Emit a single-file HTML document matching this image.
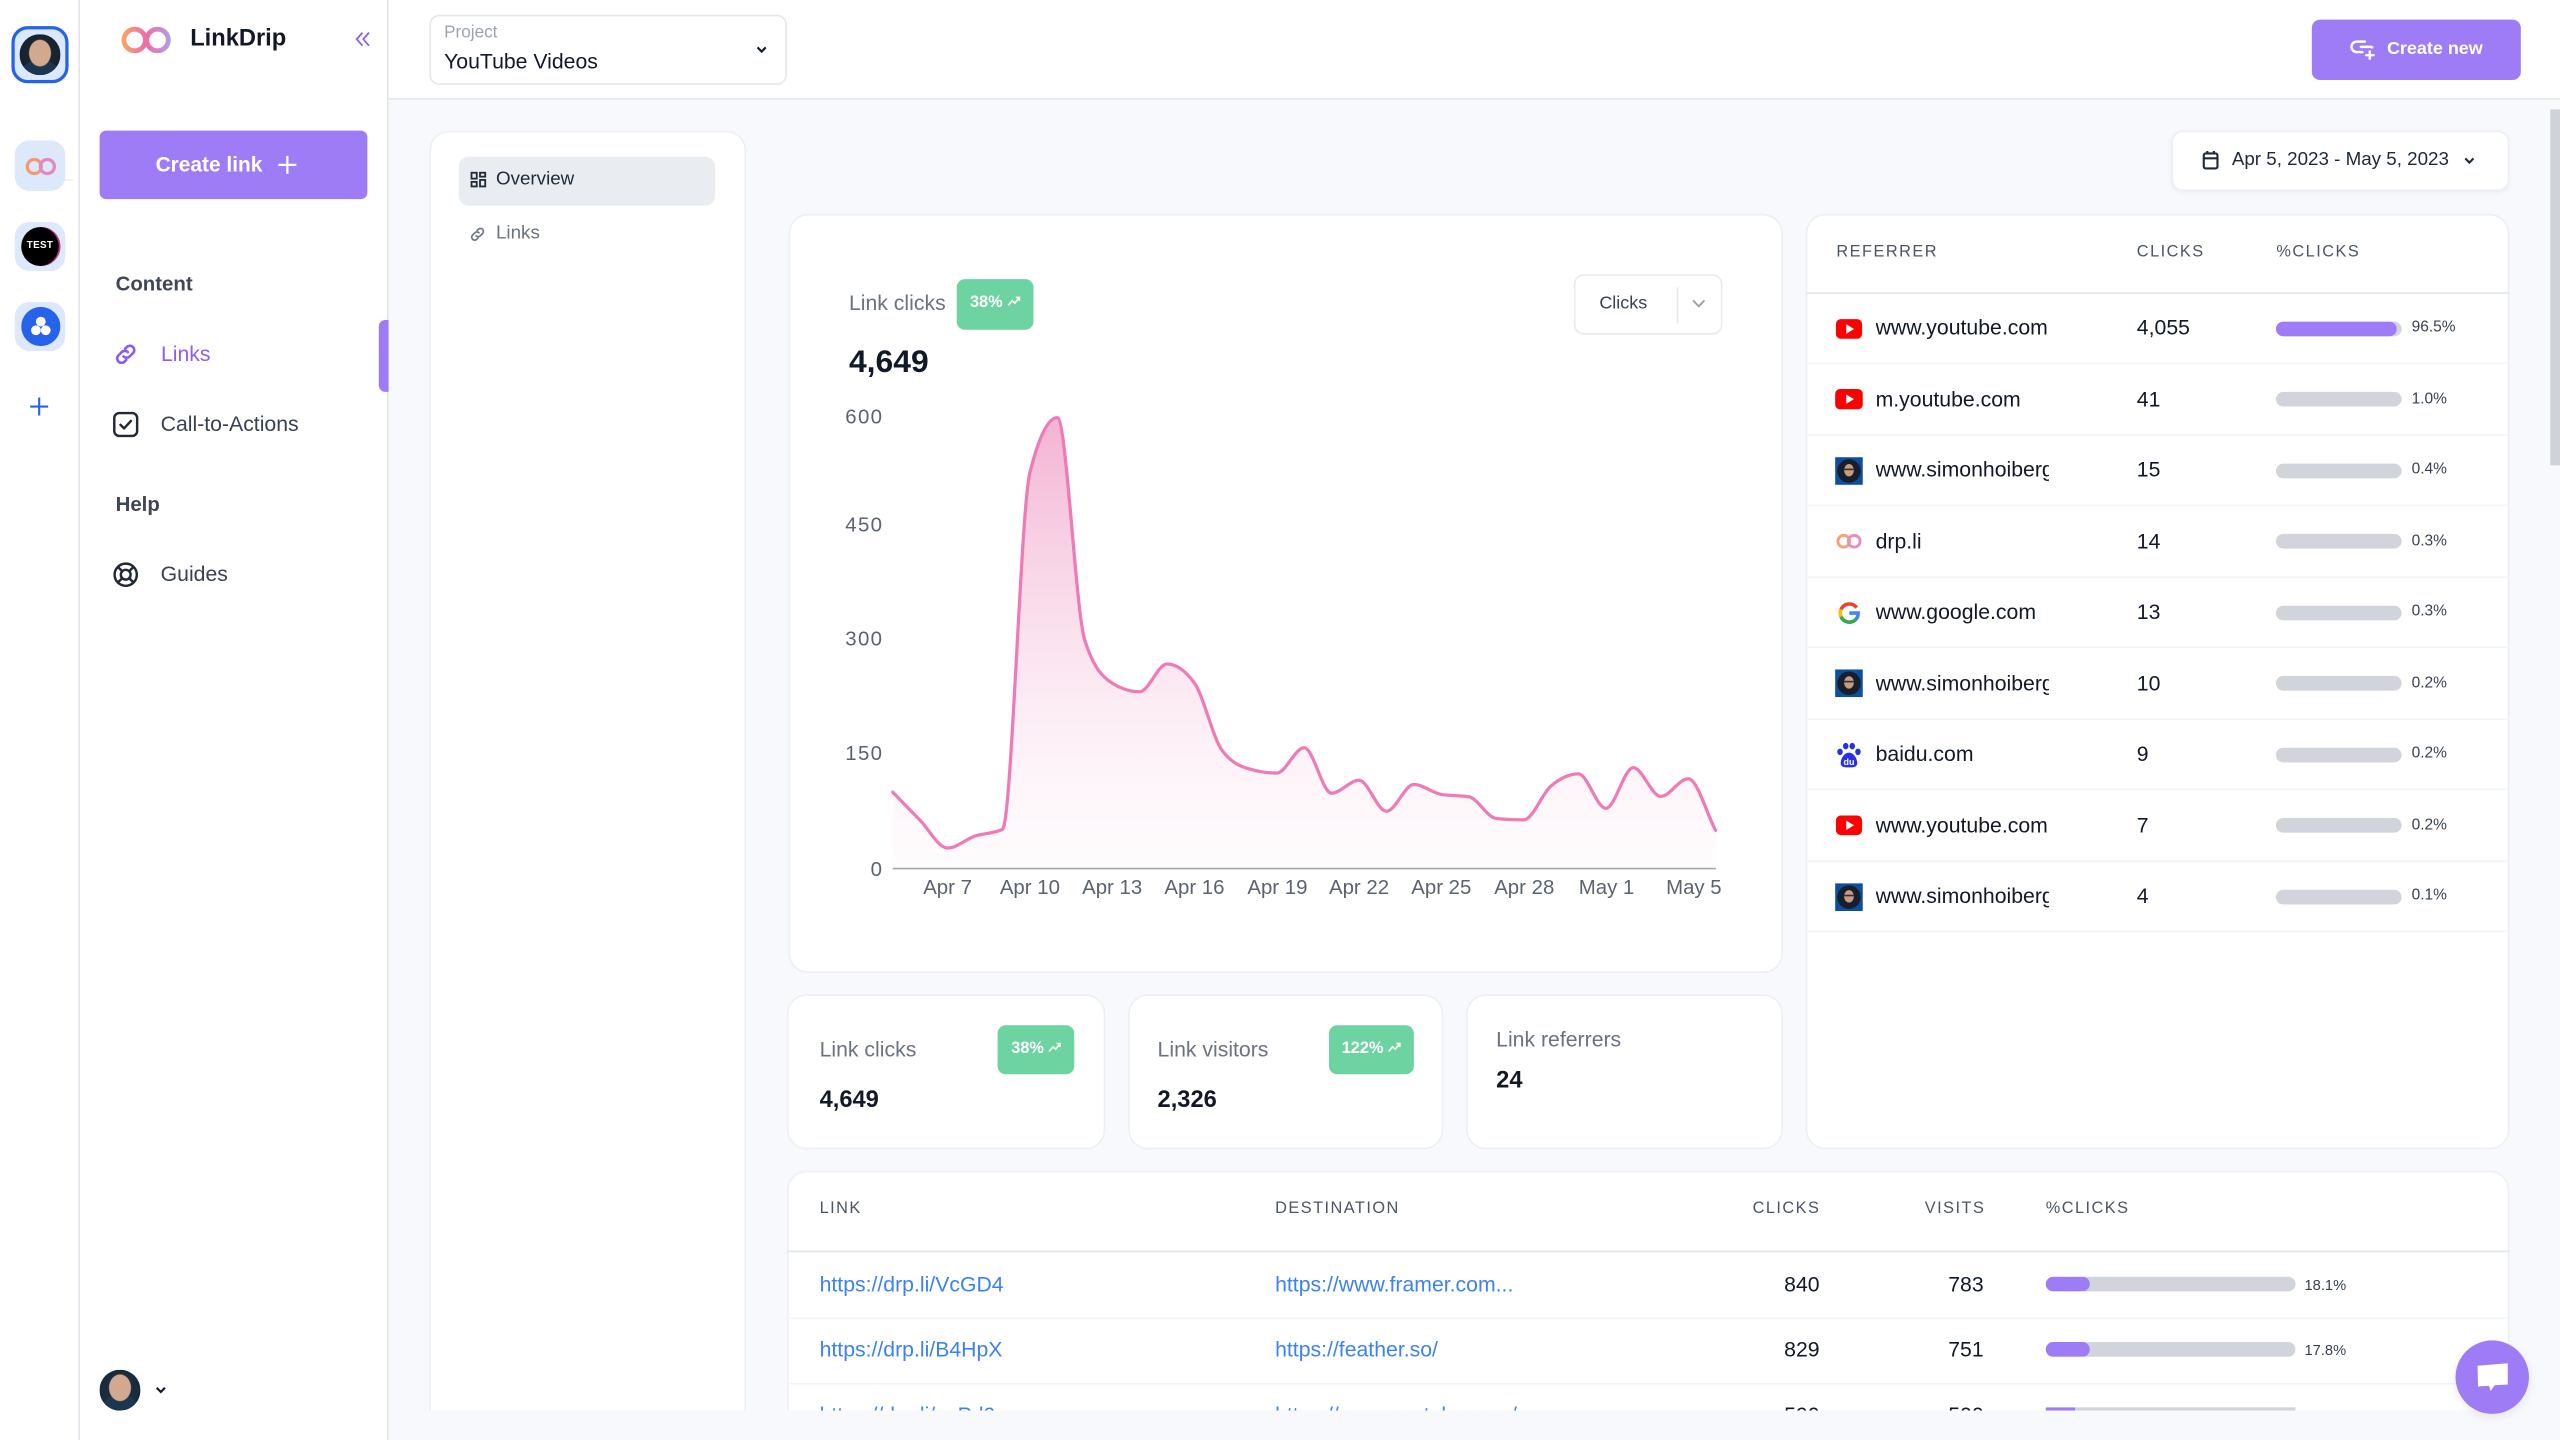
<!DOCTYPE html>
<html><head><meta charset="utf-8"><title>LinkDrip</title>
<style>
*{box-sizing:border-box;margin:0;padding:0}
html,body{width:2560px;height:1440px;overflow:hidden;background:#f7f9fc}
body{font-family:"Liberation Sans",Arial,sans-serif;color:#111827}
#w{position:absolute;left:0;top:0;width:1568px;height:882px;transform:scale(1.6326531);transform-origin:0 0;overflow:hidden;background:#f7f9fc}
.a{position:absolute}
.t{position:absolute;white-space:nowrap;height:20px;line-height:20px}
.card{position:absolute;background:#fff;border:1px solid #eceff3;border-radius:12px}
.hd{font-size:10px;letter-spacing:0.9px;color:#4b5563}
.badge{position:absolute;background:#6dd3a0;border-radius:5px;color:#fff;font-weight:bold;font-size:10px;line-height:30px;text-align:center;white-space:nowrap}
.row{position:absolute;left:1105.5px;width:431px;height:43.5px;border-bottom:1px solid #f2f4f7}
.nm{left:43.3px;top:11.75px;width:106.5px;overflow:hidden;font-size:13px;color:#111827}
.ct{left:203.3px;top:11.75px;font-size:13px;color:#111827}
.bar{position:absolute;left:288.8px;top:17.4px;width:76.3px;height:8.8px;border-radius:5px;background:#d1d5db;overflow:hidden}
.pc{left:371.6px;top:11.75px;font-size:9.5px;color:#374151}
.ic{position:absolute;left:18.5px;top:13px;width:17px;height:17px}
.lk{font-size:13px;color:#3b82f6}
.num{font-size:13px;color:#111827;text-align:right;width:100px}
.cl{position:absolute;top:856.5px;height:7.5px;overflow:hidden;white-space:nowrap;line-height:20px}
</style></head><body><div id="w">

<!-- MAIN CLIPPED CONTENT -->
<div class="a" style="left:0;top:0;width:1568px;height:864px;overflow:hidden">

<!-- sub nav card -->
<div class="card" style="left:262.5px;top:80px;width:194.5px;height:784px;border-radius:12px 12px 0 0;border-bottom:none"></div>
<div class="a" style="left:281px;top:95.6px;width:157px;height:30px;background:#e9ecf1;border-radius:6px"></div>
<svg class="a" style="left:288px;top:105px" width="10" height="10" viewBox="0 0 10 10" fill="none" stroke="#1f2937" stroke-width="1.1"><rect x="0.8" y="0.8" width="3.2" height="3.6"/><rect x="6" y="0.8" width="3.2" height="2.4"/><rect x="0.8" y="6.4" width="3.2" height="2.8"/><rect x="6" y="5.2" width="3.2" height="4"/></svg>
<div class="t" style="left:303.8px;top:100px;font-size:11.5px;color:#1f2937">Overview</div>
<svg class="a" style="left:287px;top:137.5px" width="11" height="11" viewBox="0 0 24 24" fill="none" stroke="#6b7280" stroke-width="2.2" stroke-linecap="round"><path d="M10 14a4 4 0 0 0 5.66 0l3-3a4 4 0 0 0-5.66-5.66l-1.5 1.5"/><path d="M14 10a4 4 0 0 0-5.66 0l-3 3a4 4 0 0 0 5.66 5.66l1.5-1.5"/></svg>
<div class="t" style="left:303.8px;top:133px;font-size:11.5px;color:#6b7280">Links</div>

<!-- date picker -->
<div class="a" style="left:1329.7px;top:80px;width:207px;height:37px;background:#fff;border:1px solid #eceff3;border-radius:7px;box-shadow:0 1px 3px rgba(16,24,40,.05)"></div>
<svg class="a" style="left:1349px;top:92px" width="10" height="12" viewBox="0 0 10 12" fill="none" stroke="#1f2937" stroke-width="1.3"><rect x="0.8" y="2" width="8.4" height="9.2" rx="1.2"/><line x1="0.8" y1="5" x2="9.2" y2="5"/><line x1="3" y1="0.5" x2="3" y2="2.5"/><line x1="7" y1="0.5" x2="7" y2="2.5"/></svg>
<div class="t" style="left:1367px;top:88px;font-size:11.5px;color:#1f2937">Apr 5, 2023 - May 5, 2023</div>
<svg class="a" style="left:1509px;top:95.5px" width="7" height="5" viewBox="0 0 7 5" fill="none" stroke="#1f2937" stroke-width="1.3"><polyline points="1,1 3.5,3.6 6,1"/></svg>

<!-- chart card -->
<div class="card" style="left:482.5px;top:130.5px;width:609px;height:465px"></div>
<div class="t" style="left:520px;top:176px;font-size:13px;color:#6b7280">Link clicks</div>
<div class="badge" style="left:586px;top:171px;width:47px;height:30.5px">38% <svg width="8" height="7" viewBox="0 0 8 7" fill="none" stroke="#fff" stroke-width="1"><polyline points="0.5,6 3,3.2 4.6,4.6 7.4,1.2"/><polyline points="5.2,1.2 7.4,1.2 7.4,3.3"/></svg></div>
<div class="t" style="left:520px;top:212px;font-size:19.5px;font-weight:bold;color:#111827">4,649</div>
<div class="a" style="left:964px;top:168px;width:91px;height:37px;border:1px solid #e8ebef;border-radius:6px;background:#fff"></div>
<div class="t" style="left:979.6px;top:175.6px;font-size:11px;color:#374151">Clicks</div>
<div class="a" style="left:1026.5px;top:176px;width:1px;height:22px;background:#e5e7eb"></div>
<svg class="a" style="left:1036px;top:183px" width="9" height="6" viewBox="0 0 9 6" fill="none" stroke="#9ca3af" stroke-width="1.2"><polyline points="1,1 4.5,4.6 8,1"/></svg>

<svg class="a" style="left:0;top:0" width="1568" height="864" viewBox="0 0 1568 864">
<defs><linearGradient id="g" x1="0" y1="255" x2="0" y2="532" gradientUnits="userSpaceOnUse"><stop offset="0" stop-color="#f09cc6" stop-opacity="0.78"/><stop offset="1" stop-color="#fbe5f0" stop-opacity="0.12"/></linearGradient></defs>
<path fill="url(#g)" d="M546.8,485.2 C552.4,490.97 558,496.8 563.6,502.5 C569.2,508.2 574.8,519.4 580.4,519.4 C586,519.4 591.6,514 597.2,512.1 C602.8,510.2 608.4,510.73 614,508 C619.6,505.27 625.2,311.97 630.8,289.5 C636.4,267.03 642,255.8 647.6,255.8 C653.2,255.8 658.8,374.4 664.4,392 C670,409.6 675.6,414.87 681.2,418.4 C686.8,421.93 692.4,423.7 698,423.7 C703.6,423.7 709.2,406.7 714.8,406.7 C720.4,406.7 726,410.6 731.6,418.4 C737.2,426.2 742.8,451.67 748.4,459.4 C754,467.13 759.6,469.33 765.2,471 C770.8,472.67 776.4,473.5 782,473.5 C787.6,473.5 793.2,458 798.8,458 C804.4,458 810,485.8 815.6,485.8 C821.2,485.8 826.8,477.9 832.4,477.9 C838,477.9 843.6,496.9 849.2,496.9 C854.8,496.9 860.4,480.5 866,480.5 C871.6,480.5 877.2,485.67 882.8,486.6 C888.4,487.53 894,487.07 899.6,488 C905.2,488.93 910.8,500.7 916.4,501.3 C922,501.9 927.6,502.2 933.2,502.2 C938.8,502.2 944.4,486.1 950,481.4 C955.6,476.7 961.2,474 966.8,474 C972.4,474 978,495.1 983.6,495.1 C989.2,495.1 994.8,470.2 1000.4,470.2 C1006,470.2 1011.6,487.8 1017.2,487.8 C1022.8,487.8 1028.4,477 1034,477 C1039.6,477 1045.2,498.07 1050.8,508.6 L1050.8,532 L546.8,532 Z"/>
<line x1="546.8" y1="532" x2="1051" y2="532" stroke="#a3a7ae" stroke-width="1"/>
<path fill="none" stroke="#ee7bb5" stroke-width="2" stroke-linejoin="round" stroke-linecap="round" d="M546.8,485.2 C552.4,490.97 558,496.8 563.6,502.5 C569.2,508.2 574.8,519.4 580.4,519.4 C586,519.4 591.6,514 597.2,512.1 C602.8,510.2 608.4,510.73 614,508 C619.6,505.27 625.2,311.97 630.8,289.5 C636.4,267.03 642,255.8 647.6,255.8 C653.2,255.8 658.8,374.4 664.4,392 C670,409.6 675.6,414.87 681.2,418.4 C686.8,421.93 692.4,423.7 698,423.7 C703.6,423.7 709.2,406.7 714.8,406.7 C720.4,406.7 726,410.6 731.6,418.4 C737.2,426.2 742.8,451.67 748.4,459.4 C754,467.13 759.6,469.33 765.2,471 C770.8,472.67 776.4,473.5 782,473.5 C787.6,473.5 793.2,458 798.8,458 C804.4,458 810,485.8 815.6,485.8 C821.2,485.8 826.8,477.9 832.4,477.9 C838,477.9 843.6,496.9 849.2,496.9 C854.8,496.9 860.4,480.5 866,480.5 C871.6,480.5 877.2,485.67 882.8,486.6 C888.4,487.53 894,487.07 899.6,488 C905.2,488.93 910.8,500.7 916.4,501.3 C922,501.9 927.6,502.2 933.2,502.2 C938.8,502.2 944.4,486.1 950,481.4 C955.6,476.7 961.2,474 966.8,474 C972.4,474 978,495.1 983.6,495.1 C989.2,495.1 994.8,470.2 1000.4,470.2 C1006,470.2 1011.6,487.8 1017.2,487.8 C1022.8,487.8 1028.4,477 1034,477 C1039.6,477 1045.2,498.07 1050.8,508.6"/>
<g font-family="Liberation Sans, Arial, sans-serif" font-size="12.5" fill="#5b6270">
<g text-anchor="end" letter-spacing="0.8">
<text x="541" y="259.5">600</text>
<text x="541" y="325.5">450</text>
<text x="541" y="395.5">300</text>
<text x="541" y="465.5">150</text>
<text x="541" y="536.5">0</text>
</g>
<g text-anchor="middle">
<text x="580.4" y="547.5">Apr 7</text>
<text x="630.8" y="547.5">Apr 10</text>
<text x="681.2" y="547.5">Apr 13</text>
<text x="731.6" y="547.5">Apr 16</text>
<text x="782.4" y="547.5">Apr 19</text>
<text x="832.4" y="547.5">Apr 22</text>
<text x="882.8" y="547.5">Apr 25</text>
<text x="933.6" y="547.5">Apr 28</text>
<text x="984" y="547.5">May 1</text>
<text x="1037.5" y="547.5">May 5</text>
</g></g>
</svg>

<!-- stat cards -->
<div class="card" style="left:482.4px;top:609px;width:194.4px;height:94.7px"></div>
<div class="t" style="left:502px;top:632.7px;font-size:13px;color:#6b7280">Link clicks</div>
<div class="badge" style="left:611.3px;top:627.8px;width:47px;height:30.6px">38% <svg width="8" height="7" viewBox="0 0 8 7" fill="none" stroke="#fff" stroke-width="1"><polyline points="0.5,6 3,3.2 4.6,4.6 7.4,1.2"/><polyline points="5.2,1.2 7.4,1.2 7.4,3.3"/></svg></div>
<div class="t" style="left:502px;top:663.7px;font-size:14.5px;font-weight:bold;color:#111827">4,649</div>

<div class="card" style="left:690.6px;top:609px;width:193.4px;height:94.7px"></div>
<div class="t" style="left:709px;top:632.7px;font-size:13px;color:#6b7280">Link visitors</div>
<div class="badge" style="left:814.4px;top:627.8px;width:51.2px;height:30.6px">122% <svg width="8" height="7" viewBox="0 0 8 7" fill="none" stroke="#fff" stroke-width="1"><polyline points="0.5,6 3,3.2 4.6,4.6 7.4,1.2"/><polyline points="5.2,1.2 7.4,1.2 7.4,3.3"/></svg></div>
<div class="t" style="left:709px;top:663.7px;font-size:14.5px;font-weight:bold;color:#111827">2,326</div>

<div class="card" style="left:898px;top:609px;width:193.5px;height:94.7px"></div>
<div class="t" style="left:916.4px;top:626.6px;font-size:13px;color:#6b7280">Link referrers</div>
<div class="t" style="left:916.4px;top:651.5px;font-size:14.5px;font-weight:bold;color:#111827">24</div>

<!-- referrer card -->
<div class="card" style="left:1105.5px;top:130.5px;width:431.2px;height:573.2px"></div>
<div class="t hd" style="left:1124.8px;top:144.5px">REFERRER</div>
<div class="t hd" style="left:1308.8px;top:144.5px">CLICKS</div>
<div class="t hd" style="left:1394.3px;top:144.5px">%CLICKS</div>
<div class="a" style="left:1105.5px;top:179px;width:431.2px;height:1px;background:#e3e6eb"></div>

<div class="row" style="top:179.5px">
<svg class="ic" viewBox="0 0 17 17"><rect x="0.5" y="2.5" width="16" height="12" rx="3" fill="#ff0000"/><polygon points="6.8,5.6 6.8,11.4 11.6,8.5" fill="#fff"/></svg>
<div class="t nm">www.youtube.com</div><div class="t ct">4,055</div>
<div class="bar"><div style="width:73.7px;height:100%;background:#9d7cf6;border-radius:5px"></div></div><div class="t pc">96.5%</div></div>

<div class="row" style="top:223px">
<svg class="ic" viewBox="0 0 17 17"><rect x="0" y="2.3" width="17" height="12.4" rx="3" fill="#ff0000"/><polygon points="6.8,5.6 6.8,11.4 11.6,8.5" fill="#fff"/></svg>
<div class="t nm">m.youtube.com</div><div class="t ct">41</div>
<div class="bar"></div><div class="t pc">1.0%</div></div>

<div class="row" style="top:266.5px">
<svg class="ic" viewBox="0 0 17 17"><rect width="17" height="17" fill="#0d4f9e"/><circle cx="8.5" cy="8.5" r="7.2" fill="#16202c"/><ellipse cx="8.5" cy="8" rx="3" ry="3.8" fill="#c89a80"/><rect x="5.5" y="7" width="6" height="1" fill="#333"/></svg>
<div class="t nm">www.simonhoiberg.com</div><div class="t ct">15</div>
<div class="bar"></div><div class="t pc">0.4%</div></div>

<div class="row" style="top:310px">
<svg class="ic" viewBox="0 0 17 17" fill="none" stroke-width="1.8"><circle cx="5.3" cy="8.5" r="3.6" stroke="#f5a17a"/><circle cx="11.7" cy="8.5" r="3.6" stroke="#e98fc0"/></svg>
<div class="t nm">drp.li</div><div class="t ct">14</div>
<div class="bar"></div><div class="t pc">0.3%</div></div>

<div class="row" style="top:353.5px">
<svg class="ic" viewBox="0 0 17 17" fill="none" stroke-width="2.2"><path d="M13.2 5.2 A5.6 5.6 0 0 0 3.6 6.3" stroke="#ea4335"/><path d="M3.6 6.3 A5.6 5.6 0 0 0 3.6 10.7" stroke="#fbbc05"/><path d="M3.6 10.7 A5.6 5.6 0 0 0 12.8 12.3" stroke="#34a853"/><path d="M12.8 12.3 A5.6 5.6 0 0 0 14.1 8.5 L8.7 8.5" stroke="#4285f4"/></svg>
<div class="t nm">www.google.com</div><div class="t ct">13</div>
<div class="bar"></div><div class="t pc">0.3%</div></div>

<div class="row" style="top:397px">
<svg class="ic" viewBox="0 0 17 17"><rect width="17" height="17" fill="#0d4f9e"/><circle cx="8.5" cy="8.5" r="7.2" fill="#16202c"/><ellipse cx="8.5" cy="8" rx="3" ry="3.8" fill="#c89a80"/><rect x="5.5" y="7" width="6" height="1" fill="#333"/></svg>
<div class="t nm">www.simonhoiberg.com</div><div class="t ct">10</div>
<div class="bar"></div><div class="t pc">0.2%</div></div>

<div class="row" style="top:440.5px">
<svg class="ic" viewBox="0 0 17 17" fill="#2932e1"><ellipse cx="3" cy="6.5" rx="1.7" ry="2"/><ellipse cx="6.5" cy="3" rx="1.7" ry="2"/><ellipse cx="10.5" cy="3" rx="1.7" ry="2"/><ellipse cx="14" cy="6.5" rx="1.7" ry="2"/><path d="M8.5 7 C5 7 3 12 3.5 14 C4 16 6 16 8.5 16 C11 16 13 16 13.5 14 C14 12 12 7 8.5 7Z"/><text x="8.5" y="14.6" font-size="5.5" fill="#fff" text-anchor="middle" font-family="Liberation Sans, sans-serif" font-weight="bold">du</text></svg>
<div class="t nm">baidu.com</div><div class="t ct">9</div>
<div class="bar"></div><div class="t pc">0.2%</div></div>

<div class="row" style="top:484px">
<svg class="ic" viewBox="0 0 17 17"><rect x="0.5" y="2.5" width="16" height="12" rx="3" fill="#ff0000"/><polygon points="6.8,5.6 6.8,11.4 11.6,8.5" fill="#fff"/></svg>
<div class="t nm">www.youtube.com</div><div class="t ct">7</div>
<div class="bar"></div><div class="t pc">0.2%</div></div>

<div class="row" style="top:527.5px">
<svg class="ic" viewBox="0 0 17 17"><rect width="17" height="17" fill="#0d4f9e"/><circle cx="8.5" cy="8.5" r="7.2" fill="#16202c"/><ellipse cx="8.5" cy="8" rx="3" ry="3.8" fill="#c89a80"/><rect x="5.5" y="7" width="6" height="1" fill="#333"/></svg>
<div class="t nm">www.simonhoiberg.com</div><div class="t ct">4</div>
<div class="bar"></div><div class="t pc">0.1%</div></div>

<!-- links table -->
<div class="card" style="left:482.4px;top:717px;width:1054.3px;height:147px;border-radius:12px 12px 0 0;border-bottom:none"></div>
<div class="t hd" style="left:502px;top:731px">LINK</div>
<div class="t hd" style="left:781px;top:731px">DESTINATION</div>
<div class="t hd" style="left:1015px;top:731px;width:100px;text-align:right">CLICKS</div>
<div class="t hd" style="left:1116px;top:731px;width:100px;text-align:right">VISITS</div>
<div class="t hd" style="left:1253px;top:731px">%CLICKS</div>
<div class="a" style="left:482.4px;top:766px;width:1054.3px;height:1px;background:#e3e6eb"></div>

<div class="t lk" style="left:502px;top:776.5px">https://drp.li/VcGD4</div>
<div class="t lk" style="left:781px;top:776.5px">https://www.framer.com...</div>
<div class="t num" style="left:1014.5px;top:776.5px">840</div>
<div class="t num" style="left:1115px;top:776.5px">783</div>
<div class="a" style="left:1253px;top:782.1px;width:152.7px;height:8.8px;border-radius:5px;background:#d1d5db;overflow:hidden"><div style="width:26.8px;height:100%;background:#9d7cf6;border-radius:5px"></div></div>
<div class="t" style="left:1411.5px;top:776.5px;font-size:9px;color:#374151">18.1%</div>
<div class="a" style="left:482.4px;top:806.5px;width:1054.3px;height:1px;background:#f2f4f7"></div>

<div class="t lk" style="left:502px;top:816.5px">https://drp.li/B4HpX</div>
<div class="t lk" style="left:781px;top:816.5px">https://feather.so/</div>
<div class="t num" style="left:1014.5px;top:816.5px">829</div>
<div class="t num" style="left:1115px;top:816.5px">751</div>
<div class="a" style="left:1253px;top:822.1px;width:152.7px;height:8.8px;border-radius:5px;background:#d1d5db;overflow:hidden"><div style="width:26.5px;height:100%;background:#9d7cf6;border-radius:5px"></div></div>
<div class="t" style="left:1411.5px;top:816.5px;font-size:9px;color:#374151">17.8%</div>
<div class="a" style="left:482.4px;top:846.5px;width:1054.3px;height:1px;background:#f2f4f7"></div>

<div class="cl lk" style="left:502px;width:150px">https://drp.li/nxPd9</div>
<div class="cl lk" style="left:781px;width:200px">https://www.youtube.com/...</div>
<div class="cl num" style="left:1014.5px">590</div>
<div class="cl num" style="left:1115px">500</div>
<div class="a" style="left:1253px;top:862.1px;width:152.7px;height:1.9px;background:#d1d5db;overflow:hidden"><div style="width:18px;height:100%;background:#9d7cf6"></div></div>
</div>

<!-- HEADER -->
<div class="a" style="left:237px;top:0;width:1331px;height:61px;background:#fff;border-bottom:1px solid #e5e7eb"></div>
<div class="a" style="left:262.5px;top:9.4px;width:219.5px;height:42.4px;border:1px solid #e5e7eb;border-radius:6px;background:#fff"></div>
<div class="t" style="left:272px;top:10.3px;font-size:10.5px;color:#9ca3af">Project</div>
<div class="t" style="left:272px;top:28.1px;font-size:13px;color:#111827">YouTube Videos</div>
<svg class="a" style="left:463px;top:28px" width="7" height="5" viewBox="0 0 7 5" fill="none" stroke="#111827" stroke-width="1.3"><polyline points="1,1 3.5,3.6 6,1"/></svg>
<div class="a" style="left:1416px;top:12.2px;width:127.5px;height:36.8px;background:#9d7cf6;border-radius:5px"></div>
<svg class="a" style="left:1438.5px;top:23.5px" width="17" height="13" viewBox="0 0 17 13" fill="none" stroke="#fff" stroke-width="1.5" stroke-linecap="round"><path d="M9.5 1.5 H4.5 A3.2 3.2 0 0 0 4.5 7.9 H8"/><path d="M7 4.7 H12.5 A3.2 3.2 0 0 1 14 5"/><line x1="12.5" y1="7.5" x2="12.5" y2="12"/><line x1="10.3" y1="9.8" x2="14.8" y2="9.8"/></svg>
<div class="t" style="left:1462px;top:19.6px;font-size:11px;font-weight:bold;color:#fff">Create new</div>

<!-- RAIL -->
<div class="a" style="left:0;top:0;width:49px;height:882px;background:#fff;border-right:1px solid #e2e5ea"></div>
<div class="a" style="left:7.1px;top:16.3px;width:34.7px;height:34.7px;border:2.5px solid #2563eb;border-radius:10px;background:#dce8fb"></div>
<div class="a" style="left:12.2px;top:21.4px;width:24.5px;height:24.5px;border-radius:50%;background:radial-gradient(ellipse 28% 34% at 50% 46%,#d2a98e 0 92%,transparent 100%),radial-gradient(circle at 50% 115%,#1c3550 0 42%,transparent 44%),radial-gradient(circle at 50% 50%,#1a2430 0 60%,#0f1a24 100%)"></div>
<div class="a" style="left:15px;top:110px;width:49px;height:1px;background:#e5e7eb;transform:scale(0.61);transform-origin:0 0"></div>
<div class="a" style="left:9.2px;top:86.4px;width:30.6px;height:30.6px;border-radius:9px;background:#dde9fb"></div>
<svg class="a" style="left:14.5px;top:96px" width="20" height="12" viewBox="0 0 20 12" fill="none" stroke-width="2"><circle cx="6" cy="6" r="4.3" stroke="#f39a74"/><circle cx="14" cy="6" r="4.3" stroke="#e488c0"/></svg>
<div class="a" style="left:9.2px;top:135.5px;width:30.6px;height:30.6px;border-radius:9px;background:#dde9fb"></div>
<div class="a" style="left:12.5px;top:138.8px;width:24px;height:24px;border-radius:50%;background:#000;box-shadow:inset -1px 0 0 #d0308a;color:#fff;font-size:6px;font-weight:bold;text-align:center;line-height:24px;letter-spacing:0.2px">TEST</div>
<div class="a" style="left:9.2px;top:184.7px;width:30.6px;height:30.6px;border-radius:9px;background:#dde9fb"></div>
<svg class="a" style="left:12.5px;top:188px" width="24" height="24" viewBox="0 0 24 24"><circle cx="12" cy="12" r="12" fill="#2563eb"/><circle cx="12" cy="9" r="3" fill="#fff"/><circle cx="9" cy="14.3" r="3" fill="#fff"/><circle cx="15" cy="14.3" r="3" fill="#fff"/></svg>
<svg class="a" style="left:18.4px;top:243px" width="12" height="12" viewBox="0 0 12 12" stroke="#2563eb" stroke-width="1.3"><line x1="6" y1="0.5" x2="6" y2="11.5"/><line x1="0.5" y1="6" x2="11.5" y2="6"/></svg>

<!-- SIDEBAR -->
<div class="a" style="left:49px;top:0;width:188.5px;height:882px;background:#fff;border-right:1px solid #e2e5ea"></div>
<svg class="a" style="left:73.5px;top:16.3px" width="31" height="17" viewBox="0 0 31 17" fill="none" stroke-width="3"><defs><linearGradient id="lg1" x1="0" x2="1"><stop offset="0" stop-color="#f6a46a"/><stop offset="1" stop-color="#ec6fa8"/></linearGradient><linearGradient id="lg2" x1="0" x2="1"><stop offset="0" stop-color="#ee6fa6"/><stop offset="1" stop-color="#b49be0"/></linearGradient></defs><circle cx="8.5" cy="8.5" r="6.6" stroke="url(#lg1)"/><circle cx="22.5" cy="8.5" r="6.6" stroke="url(#lg2)"/></svg>
<div class="t" style="left:116.5px;top:13.6px;font-size:14.5px;font-weight:bold;color:#111827">LinkDrip</div>
<svg class="a" style="left:216.5px;top:19px" width="10" height="10" viewBox="0 0 10 10" fill="none" stroke="#8b5cf6" stroke-width="1.1"><polyline points="5,1 1.5,5 5,9"/><polyline points="9,1 5.5,5 9,9"/></svg>
<div class="a" style="left:61.2px;top:79.6px;width:163.4px;height:42.9px;background:#9d7cf6;border-radius:4px"></div>
<div class="t" style="left:95.3px;top:90.8px;font-size:12.8px;font-weight:bold;color:#fff">Create link</div>
<svg class="a" style="left:169.5px;top:95px" width="12" height="12" viewBox="0 0 12 12" stroke="#fff" stroke-width="1.4"><line x1="6" y1="0.5" x2="6" y2="11.5"/><line x1="0.5" y1="6" x2="11.5" y2="6"/></svg>
<div class="t" style="left:70.8px;top:164px;font-size:12.5px;font-weight:bold;color:#3f4756">Content</div>
<svg class="a" style="left:68.5px;top:209px" width="16" height="16" viewBox="0 0 24 24" fill="none" stroke="#8b5cf6" stroke-width="2.4" stroke-linecap="round"><path d="M10 14a4 4 0 0 0 5.66 0l3-3a4 4 0 0 0-5.66-5.660l-1.5 1.5"/><path d="M14 10a4 4 0 0 0-5.66 0l-3 3a4 4 0 0 0 5.66 5.66l1.5-1.5"/></svg>
<div class="t" style="left:98.6px;top:207px;font-size:13px;color:#8b5cf6">Links</div>
<div class="a" style="left:231.7px;top:196px;width:6px;height:43.5px;background:#9d7cf6;border-radius:4px 0 0 4px"></div>
<svg class="a" style="left:68.5px;top:252px" width="16" height="16" viewBox="0 0 16 16" fill="none" stroke="#1f2937" stroke-width="1.5" stroke-linecap="round" stroke-linejoin="round"><rect x="1" y="1" width="14" height="14" rx="3"/><polyline points="4.8,8.2 7,10.4 11.2,5.8"/></svg>
<div class="t" style="left:98.4px;top:250px;font-size:13px;color:#374151">Call-to-Actions</div>
<div class="t" style="left:70.8px;top:298.8px;font-size:12.5px;font-weight:bold;color:#3f4756">Help</div>
<svg class="a" style="left:68.5px;top:344px" width="16" height="16" viewBox="0 0 16 16" fill="none" stroke="#1f2937" stroke-width="1.5"><circle cx="8" cy="8" r="6.8"/><circle cx="8" cy="8" r="3"/><line x1="3.2" y1="3.2" x2="5.9" y2="5.9"/><line x1="12.8" y1="3.2" x2="10.1" y2="5.9"/><line x1="3.2" y1="12.8" x2="5.9" y2="10.1"/><line x1="12.8" y1="12.8" x2="10.1" y2="10.1"/></svg>
<div class="t" style="left:98.4px;top:342px;font-size:13px;color:#374151">Guides</div>
<div class="a" style="left:61.3px;top:839px;width:24.5px;height:24.5px;border-radius:50%;background:radial-gradient(ellipse 28% 34% at 50% 44%,#d2a98e 0 92%,transparent 100%),radial-gradient(circle at 50% 115%,#1c3550 0 42%,transparent 44%),radial-gradient(circle at 50% 50%,#1a2c3c 0 60%,#0f1a24 100%)"></div>
<svg class="a" style="left:94.5px;top:848.5px" width="7" height="5" viewBox="0 0 7 5" fill="none" stroke="#111827" stroke-width="1.3"><polyline points="1,1 3.5,3.6 6,1"/></svg>

<!-- scrollbar -->
<div class="a" style="left:1562px;top:67px;width:6px;height:218px;background:#cfd2d9"></div>

<!-- chat bubble -->
<div class="a" style="left:1504.2px;top:821.2px;width:45px;height:45px;border-radius:50%;background:#9d7cf6;box-shadow:0 2px 6px rgba(0,0,0,.08)"></div>
<svg class="a" style="left:1516px;top:834px" width="22" height="20" viewBox="0 0 22 20"><path d="M1.5 2.5 L20 1 L20 14 L12 14.5 L9.5 18 L8.5 14.8 L1.8 15.2 Z" fill="#fff"/></svg>

</div></body></html>
